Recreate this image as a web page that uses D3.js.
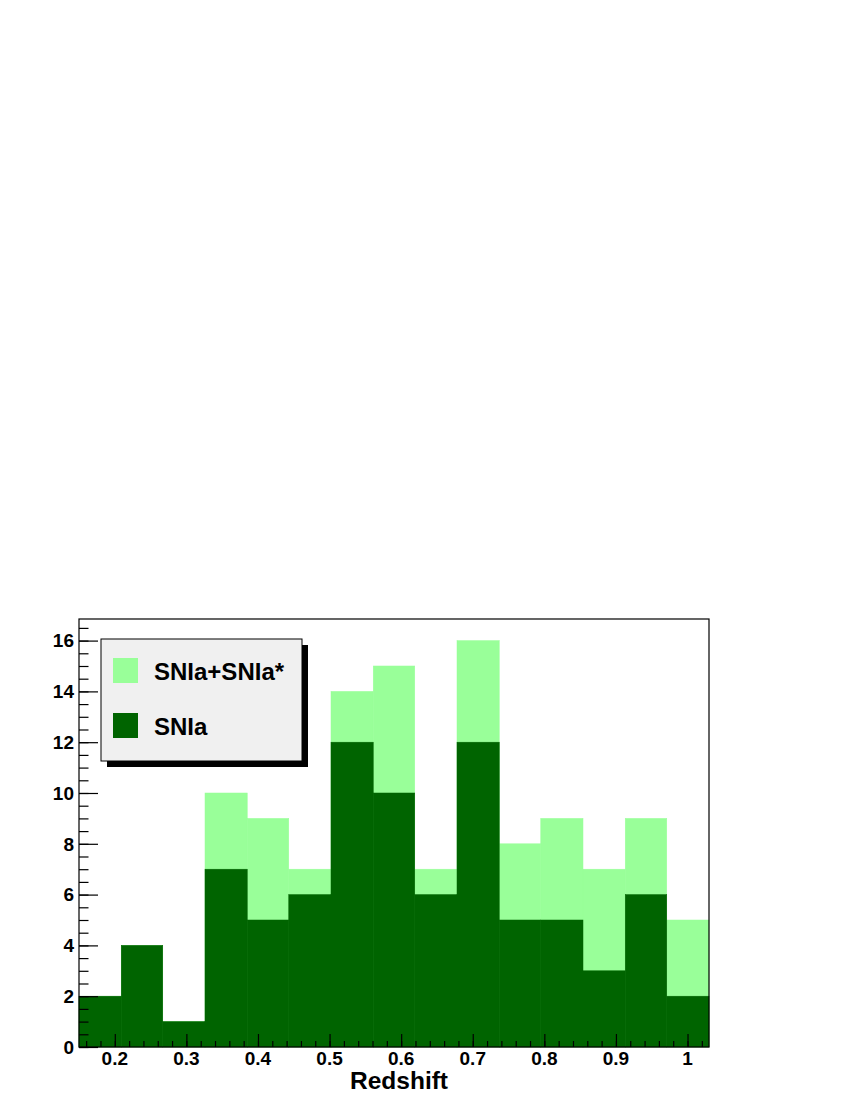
<!DOCTYPE html>
<html>
<head>
<meta charset="utf-8">
<script src="https://cdn.jsdelivr.net/npm/d3@7"></script>
<style>
  body { margin: 0; background: #fff; }
  text { font-family: "Liberation Sans", Arial, sans-serif; font-weight: bold; }
</style>
</head>
<body>
<svg id="chart"></svg>
<script>
// Redshift histogram: all candidates (SNIa+SNIa*) behind the confirmed SNIa
const binEdges = [0.150, 0.209, 0.267, 0.326, 0.385, 0.443, 0.502, 0.561,
                  0.619, 0.678, 0.737, 0.795, 0.854, 0.913, 0.971, 1.030];
const allCounts = [2, 4, 1, 10, 9, 7, 14, 15, 7, 16, 8, 9, 7, 9, 5];
const snIaCounts = [2, 4, 1, 7, 5, 6, 12, 10, 6, 12, 5, 5, 3, 6, 2];
const xTicks = [0.2, 0.3, 0.4, 0.5, 0.6, 0.7, 0.8, 0.9, 1.0];
const yTicks = [0, 2, 4, 6, 8, 10, 12, 14, 16];
const legendLabels = ['SNIa+SNIa*', 'SNIa'];

const WIDTH = 850;
const HEIGHT = 1100;
const LIGHT = '#99ff99';
const DARK = '#006400';

let svg = d3.select('#chart')
    .attr('width', WIDTH)
    .attr('height', HEIGHT);

const plot = { left: 79, right: 709, top: 619, bottom: 1047 };

let xScale = d3.scaleLinear()
    .domain([binEdges[0], binEdges[binEdges.length - 1]])
    .range([plot.left, plot.right]);

let yScale = d3.scaleLinear()
    .domain([0, 16.85])
    .range([plot.bottom, plot.top]);

// Histogram bars, light behind dark
function drawBars(counts, color, cls) {
    svg.selectAll('.' + cls)
        .data(counts)
        .enter().append('rect')
        .attr('class', cls)
        .attr('x', (d, i) => xScale(binEdges[i]))
        .attr('width', (d, i) => xScale(binEdges[i + 1]) - xScale(binEdges[i]))
        .attr('y', d => yScale(d))
        .attr('height', d => yScale(0) - yScale(d))
        .style('fill', color)
        .style('stroke', color)
        .style('stroke-width', 0.5);
}
drawBars(allCounts, LIGHT, 'bar-all');
drawBars(snIaCounts, DARK, 'bar-snia');

// Frame
svg.append('rect')
    .attr('x', plot.left)
    .attr('y', plot.top)
    .attr('width', plot.right - plot.left)
    .attr('height', plot.bottom - plot.top)
    .style('fill', 'none')
    .style('stroke', '#000')
    .style('stroke-width', 1.2);

// X axis: ticks point up into the plot
let xMinor = d3.range(8, 52).map(k => k * 0.02).filter(v => v > 0.15 && v < 1.03);
let xMajor = d3.axisTop(xScale).tickValues(xTicks).tickSize(13).tickFormat('');
let xMin = d3.axisTop(xScale).tickValues(xMinor).tickSize(6).tickFormat('');
svg.append('g').attr('transform', `translate(0,${plot.bottom})`).call(xMin);
svg.append('g').attr('transform', `translate(0,${plot.bottom})`).call(xMajor);

svg.selectAll('.x-label')
    .data(xTicks)
    .enter().append('text')
    .attr('class', 'x-label')
    .attr('x', d => xScale(d))
    .attr('y', plot.bottom + 18)
    .attr('text-anchor', 'middle')
    .style('font-size', '19px')
    .text(d => d3.format('~g')(d));

// Y axis: ticks point right into the plot
let yMinor = d3.range(0, 34).map(k => k * 0.5);
let yMajor = d3.axisRight(yScale).tickValues(yTicks).tickSize(19).tickFormat('');
let yMin = d3.axisRight(yScale).tickValues(yMinor).tickSize(9.5).tickFormat('');
svg.append('g').attr('transform', `translate(${plot.left},0)`).call(yMin);
svg.append('g').attr('transform', `translate(${plot.left},0)`).call(yMajor);

svg.selectAll('.y-label')
    .data(yTicks)
    .enter().append('text')
    .attr('class', 'y-label')
    .attr('x', plot.left - 5)
    .attr('y', d => yScale(d))
    .attr('dy', '0.36em')
    .attr('text-anchor', 'end')
    .style('font-size', '19px')
    .text(d => d);

svg.selectAll('.domain').remove();
svg.selectAll('.tick line').style('stroke', '#000').style('stroke-width', 1.2);

// Axis title
svg.append('text')
    .attr('x', 399)
    .attr('y', 1089)
    .attr('text-anchor', 'middle')
    .style('font-size', '24.5px')
    .text('Redshift');

// Legend with drop shadow
const legend = { x: 101, y: 639, w: 201, h: 122, shadow: 6 };
svg.append('rect')
    .attr('x', legend.x + legend.shadow)
    .attr('y', legend.y + legend.shadow)
    .attr('width', legend.w)
    .attr('height', legend.h)
    .style('fill', '#000');
svg.append('rect')
    .attr('x', legend.x)
    .attr('y', legend.y)
    .attr('width', legend.w)
    .attr('height', legend.h)
    .style('fill', '#f0f0f0')
    .style('stroke', '#000')
    .style('stroke-width', 1);

const legendColors = [LIGHT, DARK];
legendLabels.forEach((label, i) => {
    let rowY = 658 + i * 55;
    svg.append('rect')
        .attr('x', 113)
        .attr('y', rowY)
        .attr('width', 25)
        .attr('height', 25)
        .style('fill', legendColors[i]);
    svg.append('text')
        .attr('x', 154)
        .attr('y', rowY + 22)
        .style('font-size', '24px')
        .text(label);
});
</script>
</body>
</html>
